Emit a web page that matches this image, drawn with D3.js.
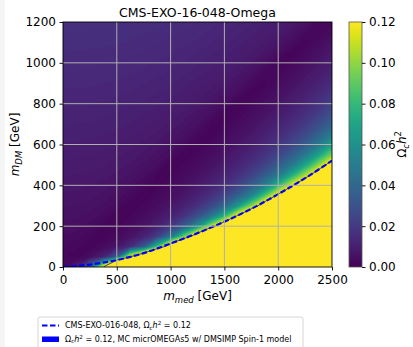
<!DOCTYPE html>
<html>
<head>
<meta charset="utf-8">
<script src="https://cdn.jsdelivr.net/npm/d3@7"></script>
<style>
body { margin: 0; background: #fff; }
svg text { font-family: "DejaVu Sans", sans-serif; fill: #000; }
</style>
</head>
<body>
<svg id="chart" width="413" height="347"></svg>
<script>
// grid of the scan: mediator mass (columns) and DM mass (rows), GeV
const medGrid = [0, 125, 250, 375, 500, 625, 750, 875, 1000, 1125, 1250, 1375, 1500, 1625, 1750, 1875, 2000, 2125, 2250, 2375, 2500];
const dmGrid = [0, 50, 100, 150, 200, 250, 300, 350, 400, 450, 500, 550, 600, 650, 700, 750, 800, 850, 900, 950, 1000, 1050, 1100, 1150, 1200];

// Omega h^2, one array per mediator mass, from m_DM = 0 up to 1200
const omegaMed0    = [0.002, 0.0022, 0.0031, 0.0039, 0.0047, 0.0054, 0.0061, 0.0068, 0.0074, 0.0081, 0.0087, 0.0093, 0.0099, 0.0105, 0.0111, 0.0116, 0.0122, 0.0128, 0.0133, 0.0139, 0.0144, 0.0149, 0.0155, 0.0160, 0.0165];
const omegaMed125  = [0.01, 0.0012, 0.0024, 0.0035, 0.0045, 0.0052, 0.0060, 0.0067, 0.0073, 0.0080, 0.0086, 0.0092, 0.0099, 0.0104, 0.0110, 0.0116, 0.0122, 0.0127, 0.0133, 0.0139, 0.0144, 0.0149, 0.0155, 0.0160, 0.0165];
const omegaMed250  = [0.04, 0.0045, 0.0013, 0.0022, 0.0037, 0.0047, 0.0055, 0.0064, 0.0070, 0.0078, 0.0084, 0.0091, 0.0097, 0.0103, 0.0109, 0.0114, 0.0121, 0.0127, 0.0132, 0.0138, 0.0143, 0.0148, 0.0154, 0.0159, 0.0164];
const omegaMed375  = [0.12, 0.0115, 0.0035, 0.0015, 0.0016, 0.0036, 0.0048, 0.0057, 0.0065, 0.0074, 0.0081, 0.0087, 0.0094, 0.0100, 0.0107, 0.0112, 0.0119, 0.0125, 0.0130, 0.0136, 0.0141, 0.0147, 0.0153, 0.0158, 0.0163];
const omegaMed500  = [0.304, 0.0334, 0.0067, 0.0033, 0.0017, 0.0010, 0.0034, 0.0048, 0.0058, 0.0067, 0.0075, 0.0083, 0.0090, 0.0097, 0.0104, 0.0109, 0.0116, 0.0122, 0.0128, 0.0134, 0.0139, 0.0145, 0.0151, 0.0156, 0.0161];
const omegaMed625  = [0.3, 0.12, 0.0150, 0.0060, 0.0036, 0.0019, 0.0010, 0.0031, 0.0046, 0.0058, 0.0068, 0.0077, 0.0085, 0.0092, 0.0099, 0.0105, 0.0112, 0.0119, 0.0125, 0.0131, 0.0137, 0.0142, 0.0149, 0.0154, 0.0159];
const omegaMed750  = [0.3, 0.169, 0.0328, 0.0112, 0.0060, 0.0038, 0.0023, 0.0010, 0.0026, 0.0045, 0.0057, 0.0068, 0.0077, 0.0086, 0.0094, 0.0100, 0.0108, 0.0115, 0.0121, 0.0128, 0.0133, 0.0139, 0.0146, 0.0151, 0.0157];
const omegaMed875  = [0.3, 0.27, 0.0826, 0.0223, 0.0107, 0.0064, 0.0042, 0.0027, 0.0014, 0.0019, 0.0042, 0.0056, 0.0068, 0.0078, 0.0087, 0.0094, 0.0102, 0.0110, 0.0116, 0.0123, 0.0129, 0.0135, 0.0142, 0.0148, 0.0154];
const omegaMed1000 = [0.3, 0.3, 0.152, 0.0463, 0.0198, 0.0108, 0.0070, 0.0045, 0.0031, 0.0018, 0.0010, 0.0039, 0.0055, 0.0067, 0.0078, 0.0086, 0.0095, 0.0104, 0.0111, 0.0118, 0.0125, 0.0131, 0.0138, 0.0144, 0.0150];
const omegaMed1125 = [0.3, 0.3, 0.229, 0.0927, 0.0347, 0.0178, 0.0111, 0.0073, 0.0050, 0.0034, 0.0022, 0.0010, 0.0034, 0.0053, 0.0066, 0.0077, 0.0087, 0.0096, 0.0104, 0.0112, 0.0119, 0.0126, 0.0133, 0.0140, 0.0146];
const omegaMed1250 = [0.3, 0.3, 0.3, 0.148, 0.0602, 0.0292, 0.0170, 0.0112, 0.0076, 0.0054, 0.0037, 0.0025, 0.0012, 0.0029, 0.0050, 0.0064, 0.0076, 0.0087, 0.0096, 0.0105, 0.0112, 0.0120, 0.0128, 0.0134, 0.0141];
const omegaMed1375 = [0.3, 0.3, 0.3, 0.212, 0.105, 0.0464, 0.0259, 0.0166, 0.0116, 0.0080, 0.0058, 0.0041, 0.0028, 0.0015, 0.0021, 0.0046, 0.0062, 0.0075, 0.0086, 0.0096, 0.0105, 0.0113, 0.0121, 0.0128, 0.0135];
const omegaMed1500 = [0.3, 0.3, 0.3, 0.3, 0.153, 0.0774, 0.0400, 0.0246, 0.0164, 0.0117, 0.0083, 0.0062, 0.0046, 0.0031, 0.0019, 0.0010, 0.0042, 0.0060, 0.0074, 0.0085, 0.0095, 0.0104, 0.0113, 0.0121, 0.0129];
const omegaMed1625 = [0.3, 0.3, 0.3, 0.3, 0.2, 0.124, 0.0636, 0.0370, 0.0240, 0.0167, 0.0123, 0.0091, 0.0068, 0.0050, 0.0036, 0.0022, 0.0010, 0.0038, 0.0057, 0.0072, 0.0084, 0.0094, 0.0104, 0.0113, 0.0121];
const omegaMed1750 = [0.3, 0.3, 0.3, 0.3, 0.3, 0.173, 0.0975, 0.0541, 0.0349, 0.0238, 0.0171, 0.0129, 0.0097, 0.0072, 0.0055, 0.0040, 0.0026, 0.0012, 0.0031, 0.0054, 0.0070, 0.0082, 0.0094, 0.0104, 0.0113];
const omegaMed1875 = [0.3, 0.3, 0.3, 0.3, 0.3, 0.25, 0.143, 0.0854, 0.0515, 0.0343, 0.0242, 0.0177, 0.0136, 0.0104, 0.0081, 0.0060, 0.0045, 0.0031, 0.0017, 0.0023, 0.0050, 0.0067, 0.0081, 0.0093, 0.0103];
const omegaMed2000 = [0.3, 0.3, 0.3, 0.3, 0.3, 0.3, 0.2, 0.127, 0.0786, 0.0491, 0.0344, 0.0250, 0.0187, 0.0143, 0.0113, 0.0087, 0.0065, 0.0050, 0.0036, 0.0022, 0.0010, 0.0045, 0.0065, 0.0079, 0.0091];
const omegaMed2125 = [0.3, 0.3, 0.3, 0.3, 0.3, 0.3, 0.25, 0.165, 0.115, 0.0732, 0.0483, 0.0348, 0.0257, 0.0196, 0.0151, 0.0122, 0.0095, 0.0074, 0.0055, 0.0041, 0.0026, 0.0010, 0.0040, 0.0061, 0.0077];
const omegaMed2250 = [0.3, 0.3, 0.3, 0.3, 0.3, 0.3, 0.3, 0.25, 0.156, 0.1046, 0.0698, 0.0484, 0.0355, 0.0267, 0.0206, 0.0161, 0.0129, 0.0103, 0.0081, 0.0063, 0.0045, 0.0031, 0.0015, 0.0033, 0.0057];
const omegaMed2375 = [0.3, 0.3, 0.3, 0.3, 0.3, 0.3, 0.3, 0.3, 0.22, 0.145, 0.0991, 0.0689, 0.0488, 0.0366, 0.0281, 0.0219, 0.0173, 0.0138, 0.0112, 0.0089, 0.0069, 0.0052, 0.0036, 0.0020, 0.0024];
const omegaMed2500 = [0.3, 0.3, 0.3, 0.3, 0.3, 0.3, 0.3, 0.3, 0.28, 0.2, 0.138, 0.0957, 0.0691, 0.0501, 0.0376, 0.0297, 0.0234, 0.0186, 0.0149, 0.0121, 0.0098, 0.0077, 0.0059, 0.0041, 0.0025];

const omegaColumns = [omegaMed0, omegaMed125, omegaMed250, omegaMed375, omegaMed500, omegaMed625, omegaMed750,
    omegaMed875, omegaMed1000, omegaMed1125, omegaMed1250, omegaMed1375, omegaMed1500, omegaMed1625, omegaMed1750,
    omegaMed1875, omegaMed2000, omegaMed2125, omegaMed2250, omegaMed2375, omegaMed2500];

// CMS-EXO-16-048 relic line
const cmsMed = [0, 250, 500, 750, 1000, 1250, 1500, 1750, 2000, 2250, 2500];
const cmsDM = [0, 12, 34, 68, 115, 166, 222, 285, 357, 435, 521];

const xTicks = [0, 500, 1000, 1500, 2000, 2500];
const yTicks = [0, 200, 400, 600, 800, 1000, 1200];
const cTicks = [0, 0.02, 0.04, 0.06, 0.08, 0.10, 0.12];
const omegaMax = 0.12;

const margin = { top: 22, left: 63, right: 81, bottom: 80 };
const width = 413 - margin.left - margin.right,
    height = 347 - margin.top - margin.bottom;

const svg = d3.select("#chart");
const defs = svg.append("defs");

// light strip on the left edge of the page
svg.append("rect").attr("x", 0).attr("y", 0).attr("width", 5).attr("height", 347).attr("fill", "#f5f5f5");

const g = svg.append("g").attr("transform", "translate(" + margin.left + "," + margin.top + ")");

const x = d3.scaleLinear().domain([0, 2500]).range([0, width]);
const y = d3.scaleLinear().domain([0, 1200]).range([height, 0]);

defs.append("clipPath").attr("id", "plotClip")
    .append("rect").attr("width", width).attr("height", height);

//////////////////////// heat map via filled contours ////////////////////////
const nx = medGrid.length, ny = dmGrid.length;
const values = new Array(nx * ny);
for (let j = 0; j < ny; j++)
    for (let i = 0; i < nx; i++) values[j * nx + i] = omegaColumns[i][j];

// grid index (cell centres at i + 0.5) -> physical masses
const ix = d3.scaleLinear().domain([0.5, nx - 0.5]).range([medGrid[0], medGrid[nx - 1]]);
const iy = d3.scaleLinear().domain([0.5, ny - 0.5]).range([dmGrid[0], dmGrid[ny - 1]]);
const gridPath = d3.geoPath(d3.geoTransform({
    point: function(px, py) { this.stream.point(x(ix(px)), y(iy(py))); }
}));

const levels = d3.range(0, 121).map(function(i) { return i / 1000; });
const bands = d3.contours().size([nx, ny]).thresholds(levels)(values);

const heat = g.append("g").attr("clip-path", "url(#plotClip)");
heat.append("rect").attr("width", width).attr("height", height).attr("fill", d3.interpolateViridis(0));
heat.selectAll("path.band")
    .data(bands)
    .enter().append("path")
    .attr("class", "band")
    .attr("d", gridPath)
    .attr("fill", function(d) {
        return d3.interpolateViridis(Math.min(1, (d.value + 0.0005) / omegaMax));
    })
    .attr("stroke", "none");

// grid lines
g.append("g").selectAll("line")
    .data(xTicks.slice(1, -1))
    .enter().append("line")
    .attr("x1", function(d) { return x(d); }).attr("x2", function(d) { return x(d); })
    .attr("y1", 0).attr("y2", height)
    .attr("stroke", "#b0b0b0").attr("stroke-width", 1);
g.append("g").selectAll("line")
    .data(yTicks.slice(1, -1))
    .enter().append("line")
    .attr("y1", function(d) { return y(d); }).attr("y2", function(d) { return y(d); })
    .attr("x1", 0).attr("x2", width)
    .attr("stroke", "#b0b0b0").attr("stroke-width", 1);

// micrOMEGAs Omega h^2 = 0.12 contour
const relic = d3.contours().size([nx, ny]).thresholds([omegaMax])(values);
heat.selectAll("path.relic")
    .data(relic)
    .enter().append("path")
    .attr("class", "relic")
    .attr("d", gridPath)
    .attr("fill", "none")
    .attr("stroke", "#2a2a78")
    .attr("stroke-width", 0.9);

// CMS dashed line
const cmsLine = d3.line()
    .x(function(d, i) { return x(cmsMed[i]); })
    .y(function(d) { return y(d); })
    .curve(d3.curveMonotoneX);
heat.append("path")
    .datum(cmsDM)
    .attr("d", cmsLine)
    .attr("fill", "none")
    .attr("stroke", "#0000ff")
    .attr("stroke-width", 2.2)
    .attr("stroke-dasharray", "5.5,2.5");

// frame
g.append("rect").attr("width", width).attr("height", height)
    .attr("fill", "none").attr("stroke", "#000").attr("stroke-width", 0.9);

// axes
const xAxis = g.append("g")
    .attr("transform", "translate(0," + height + ")")
    .call(d3.axisBottom(x).tickValues(xTicks).tickFormat(d3.format("d")).tickSize(3.5).tickPadding(4.5).tickSizeOuter(0));
const yAxis = g.append("g")
    .call(d3.axisLeft(y).tickValues(yTicks).tickFormat(d3.format("d")).tickSize(3.5).tickPadding(3.5).tickSizeOuter(0));
[xAxis, yAxis].forEach(function(a) {
    a.select(".domain").remove();
    a.attr("font-family", null).attr("font-size", null);
    a.selectAll("text").style("font-size", "12px");
    a.selectAll("line").attr("stroke", "#000").attr("stroke-width", 0.9);
});

// title
svg.append("text")
    .attr("x", margin.left + width / 2).attr("y", 17)
    .attr("text-anchor", "middle")
    .style("font-size", "12.5px")
    .text("CMS-EXO-16-048-Omega");

// axis labels
function massLabel(sel, sub) {
    sel.append("tspan").attr("font-style", "italic").text("m");
    sel.append("tspan").attr("font-style", "italic").attr("font-size", "8.5px").attr("dy", 2.5).text(sub);
    sel.append("tspan").attr("dy", -2.5).text(" [GeV]");
}
const xLabel = svg.append("text")
    .attr("x", margin.left + width / 2).attr("y", 300)
    .attr("text-anchor", "middle")
    .style("font-size", "12px");
massLabel(xLabel, "med");
const yLabel = svg.append("text")
    .attr("transform", "translate(19," + (margin.top + height / 2) + ") rotate(-90)")
    .attr("text-anchor", "middle")
    .style("font-size", "12px");
massLabel(yLabel, "DM");

///////////////////////////// colour bar /////////////////////////////
const cbX = 349, cbW = 13;
const grad = defs.append("linearGradient")
    .attr("id", "viridisGrad")
    .attr("x1", "0%").attr("y1", "100%")
    .attr("x2", "0%").attr("y2", "0%");
grad.selectAll("stop")
    .data(d3.range(0, 21))
    .enter().append("stop")
    .attr("offset", function(d) { return d / 20; })
    .attr("stop-color", function(d) { return d3.interpolateViridis(d / 20); });

const cScale = d3.scaleLinear().domain([0, omegaMax]).range([margin.top + height, margin.top]);
svg.append("rect")
    .attr("x", cbX).attr("y", margin.top)
    .attr("width", cbW).attr("height", height)
    .attr("fill", "url(#viridisGrad)")
    .attr("stroke", "#555").attr("stroke-width", 0.8);
const cAxis = svg.append("g")
    .attr("transform", "translate(" + (cbX + cbW) + ",0)")
    .call(d3.axisRight(cScale).tickValues(cTicks).tickFormat(d3.format(".2f")).tickSize(3.5).tickPadding(3.5).tickSizeOuter(0));
cAxis.select(".domain").remove();
cAxis.attr("font-family", null).attr("font-size", null);
cAxis.selectAll("text").style("font-size", "12px");
cAxis.selectAll("line").attr("stroke", "#000").attr("stroke-width", 0.9);

function omegaText(sel, size) {
    sel.append("tspan").text("Ω");
    sel.append("tspan").attr("font-style", "italic").attr("font-size", (size * 0.7) + "px").attr("dy", size * 0.22).text("c");
    sel.append("tspan").attr("font-style", "italic").attr("dy", -size * 0.22).text("h");
    sel.append("tspan").attr("font-size", (size * 0.7) + "px").attr("dy", -size * 0.38).text("2");
}
const cLabel = svg.append("text")
    .attr("transform", "translate(406," + (margin.top + height / 2) + ") rotate(-90)")
    .attr("text-anchor", "middle")
    .style("font-size", "12px");
omegaText(cLabel, 12);

/////////////////////////////// legend ///////////////////////////////
const legend = svg.append("g").attr("transform", "translate(38,317)");
legend.append("rect")
    .attr("width", 265).attr("height", 40).attr("rx", 2)
    .attr("fill", "#fff").attr("stroke", "#cccccc").attr("stroke-width", 0.8);
legend.append("line")
    .attr("x1", 4).attr("x2", 21).attr("y1", 8.5).attr("y2", 8.5)
    .attr("stroke", "#0000ff").attr("stroke-width", 2)
    .attr("stroke-dasharray", "5.5,2.5");
const lt1 = legend.append("text").attr("x", 27).attr("y", 11.3).style("font-size", "8px");
lt1.append("tspan").text("CMS-EXO-016-048, ");
omegaText(lt1, 8);
lt1.append("tspan").attr("dy", 8 * 0.38).text(" = 0.12");
legend.append("rect")
    .attr("x", 4).attr("y", 19.5).attr("width", 17).attr("height", 5.5)
    .attr("fill", "#0000ff");
const lt2 = legend.append("text").attr("x", 27).attr("y", 24.7).style("font-size", "8px");
omegaText(lt2, 8);
lt2.append("tspan").attr("dy", 8 * 0.38).text(" = 0.12, MC micrOMEGAs5 w/ DMSIMP Spin-1 model");
</script>
</body>
</html>
